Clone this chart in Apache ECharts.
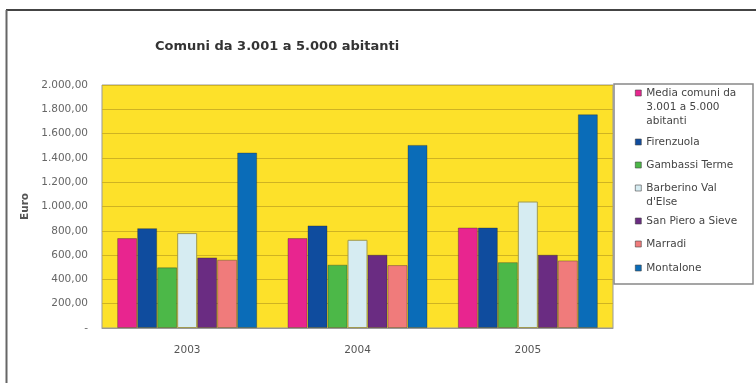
<!DOCTYPE html>
<html><head><meta charset="utf-8">
<script src="https://cdn.jsdelivr.net/npm/echarts@6/dist/echarts.min.js"></script>
<style>html,body{margin:0;padding:0;background:#fff}#c{width:756px;height:383px}</style>
</head><body><div id="c"></div>
<script>
const categories = ['2003', '2004', '2005'];
const seriesNames = ['Media comuni da 3.001 a 5.000 abitanti', 'Firenzuola', 'Gambassi Terme', "Barberino Val d'Else", 'San Piero a Sieve', 'Marradi', 'Montalone'];
const legendLabels = ['Media comuni da\n3.001 a 5.000\nabitanti', 'Firenzuola', 'Gambassi Terme', "Barberino Val\nd'Else", 'San Piero a Sieve', 'Marradi', 'Montalone'];
const media = [740, 740, 827];
const firenzuola = [822, 844, 827];
const gambassi = [499, 521, 542];
const barberino = [781, 726, 1041];
const sanPiero = [581, 603, 603];
const marradi = [562, 518, 556];
const montalone = [1444, 1507, 1759];
const yTicks = [0, 200, 400, 600, 800, 1000, 1200, 1400, 1600, 1800, 2000];
const colors = ['#e8258f', '#0f4c9e', '#4cb848', '#d6ecf2', '#6a2c82', '#f07b7b', '#0a6cb8'];
const values = [media, firenzuola, gambassi, barberino, sanPiero, marradi, montalone];

function fmt(v) {
  if (v === 0) return '-';
  const s = v.toFixed(2).split('.');
  return s[0].replace(/\B(?=(\d{3})+(?!\d))/g, '.') + ',' + s[1];
}

const FONT = 'DejaVu Sans, Verdana, sans-serif';
const LH = 14;
const legendCenters = [93, 142, 165, 188, 221, 244, 268];
const legends = seriesNames.map((n, i) => {
  const lines = legendLabels[i].split('\n').length;
  const txt = '\n'.repeat(lines - 1) + legendLabels[i];
  const total = 2 * lines - 1;
  return {
    data: [n], orient: 'vertical', left: 635, top: legendCenters[i] - total * LH / 2,
    padding: 0, itemWidth: 6, itemHeight: 6, itemGap: 0,
    icon: 'rect', selectedMode: false,
    itemStyle: { borderColor: '#444', borderWidth: 0.6 },
    formatter: () => txt,
    textStyle: { fontFamily: FONT, fontSize: 10.5, color: '#444', lineHeight: LH }
  };
});

const chart = echarts.init(document.getElementById('c'));
chart.setOption({
  animation: false,
  title: { text: 'Comuni da 3.001 a 5.000 abitanti', left: 155, top: 40, padding: 0,
    textStyle: { fontFamily: FONT, fontSize: 13, fontWeight: 'bold', color: '#333' } },
  legend: legends,
  grid: { left: 102, right: 143, top: 85, bottom: 55, show: true, backgroundColor: '#fde12a', borderColor: '#999', borderWidth: 1 },
  xAxis: { type: 'category', data: categories,
    axisLine: { lineStyle: { color: '#999' } }, axisTick: { show: false },
    axisLabel: { fontFamily: FONT, fontSize: 10.5, color: '#555', margin: 17 } },
  yAxis: { type: 'value', min: 0, max: 2000, interval: 200,
    name: 'Euro', nameLocation: 'middle', nameGap: 70, nameRotate: 90,
    nameTextStyle: { fontFamily: FONT, fontSize: 10.5, color: '#555', fontWeight: 'bold' },
    axisLine: { show: false }, axisTick: { show: false },
    splitLine: { lineStyle: { color: '#cfb322', width: 1 } },
    axisLabel: { fontFamily: FONT, fontSize: 10.5, color: '#666', margin: 14,
      formatter: v => yTicks.indexOf(v) >= 0 ? fmt(v) : '' } },
  series: seriesNames.map((n, i) => ({
    name: n, type: 'bar', data: values[i], barWidth: 20, barGap: '0%',
    itemStyle: { color: colors[i], borderColor: i === 3 ? '#a09a50' : 'rgba(40,40,40,0.35)', borderWidth: 1 }
  })),
  graphic: [
    { type: 'rect', shape: { x: 614, y: 84, width: 139, height: 200 }, style: { fill: '#fff', stroke: '#888', lineWidth: 1.5 }, z: -1 },
    { type: 'line', shape: { x1: 6, y1: 10, x2: 756, y2: 10 }, style: { stroke: '#444', lineWidth: 2 } },
    { type: 'line', shape: { x1: 6.5, y1: 10, x2: 6.5, y2: 383 }, style: { stroke: '#666', lineWidth: 2 } }
  ]
});
</script></body></html>
